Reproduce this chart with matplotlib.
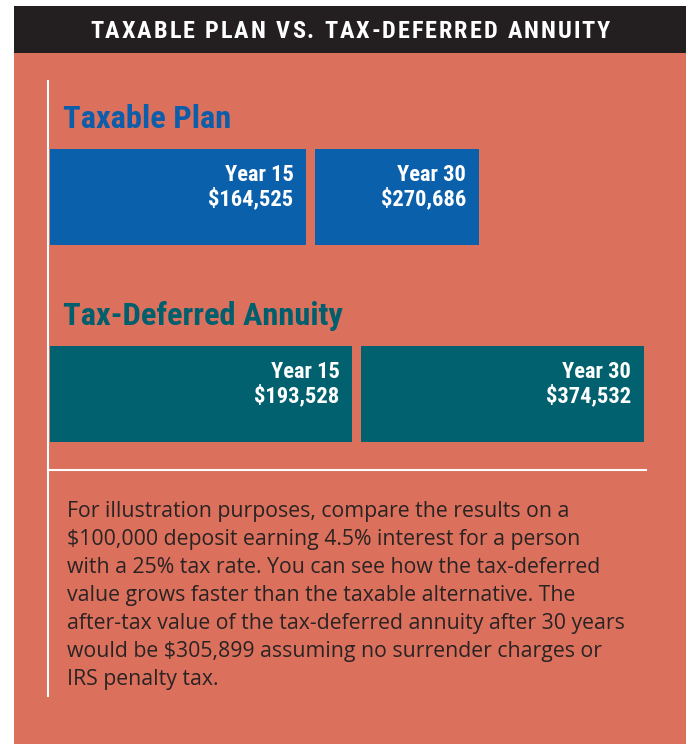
import matplotlib
matplotlib.use("Agg")
import matplotlib.pyplot as plt
from matplotlib.patches import Rectangle
from matplotlib.lines import Line2D

# ---- data ----
plans = ["Taxable Plan", "Tax-Deferred Annuity"]
year15_values = [164525, 193528]
year30_values = [270686, 374532]
year_labels = ["Year 15", "Year 30"]
header = "TAXABLE PLAN VS. TAX-DEFERRED ANNUITY"
body_lines = [
    "For illustration purposes, compare the results on a",
    "$100,000 deposit earning 4.5% interest for a person",
    "with a 25% tax rate. You can see how the tax-deferred",
    "value grows faster than the taxable alternative. The",
    "after-tax value of the tax-deferred annuity after 30 years",
    "would be $305,899 assuming no surrender charges or",
    "IRS penalty tax.",
]

# ---- styles ----
W, H = 688, 744
SALMON = "#DB705D"
HEADER_BG = "#231F20"
BAR_COLORS = ["#0B60AC", "#02616E"]
TITLE_COLORS = ["#0D5EAA", "#005F6C"]
BODY_COLOR = "#2A2323"
COND = ["Roboto Condensed", "DejaVu Sans"]
BODY_FONT = ["Open Sans", "DejaVu Sans"]

fig = plt.figure(figsize=(W / 100, H / 100), dpi=100)
fig.patch.set_facecolor("white")
renderer = fig.canvas.get_renderer()

def fx(x):
    return x / W

def fy(y):
    return 1 - y / H

# background panel and header
fig.patches.append(Rectangle((fx(14), fy(744)), fx(686) - fx(14), fy(53) - fy(744),
                             transform=fig.transFigure, facecolor=SALMON, edgecolor="none", zorder=-2))
fig.patches.append(Rectangle((fx(14), fy(53)), fx(686) - fx(14), fy(6) - fy(53),
                             transform=fig.transFigure, facecolor=HEADER_BG, edgecolor="none", zorder=-1))

# header text with letter tracking fitted to a target width
def tracked_text(cx, base_y, s, target_w, **kw):
    items, widths = [], []
    for ch in s:
        t = fig.text(0, 0, ch if ch != " " else "I", **kw)
        w = t.get_window_extent(renderer=renderer).width
        if ch == " ":
            t.set_text(" ")
            w *= 1.0
        widths.append(w)
        items.append(t)
    track = (target_w - sum(widths)) / (len(s) - 1)
    x = cx - target_w / 2
    for t, w in zip(items, widths):
        t.set_position((fx(x), fy(base_y)))
        x += w + track

tracked_text(350, 38.5, header, 520, fontsize=17.5, fontweight="bold", family=COND,
             color="white", ha="left", va="baseline", zorder=3)

# white rules
fig.lines.append(Line2D([fx(48), fx(48)], [fy(81), fy(696)], transform=fig.transFigure,
                        color="white", linewidth=1.5, zorder=2))
fig.lines.append(Line2D([fx(48), fx(646)], [fy(470), fy(470)], transform=fig.transFigure,
                        color="white", linewidth=1.5, zorder=2))

# bar axes
ax_left, ax_w = 50, 594
ax_top, ax_h = 98.5, 394
ax = fig.add_axes([fx(ax_left), fy(ax_top + ax_h), ax_w / W, ax_h / H])
ax.set_zorder(3)
ax.set_facecolor("none")
xmax = max(year30_values)
ax.set_xlim(0, xmax)
ax.set_ylim(1.5, -0.5)
ax.axis("off")
bar_h = 96 / 197
gap = 9 * xmax / ax_w

for i, (v15, v30) in enumerate(zip(year15_values, year30_values)):
    ax.barh(i, v15 - gap / 2, left=0, height=bar_h, color=BAR_COLORS[i], edgecolor="none")
    ax.barh(i, v30 - v15 - gap / 2, left=v15 + gap / 2, height=bar_h, color=BAR_COLORS[i], edgecolor="none")
    for end, lab, val in [(v15 - gap / 2, year_labels[0], v15), (v30, year_labels[1], v30)]:
        ax.annotate(lab, xy=(end, i - bar_h / 2), xytext=(-13, -32), textcoords="offset pixels",
                    ha="right", va="baseline", color="white", fontsize=16.2,
                    fontweight="bold", family=COND, annotation_clip=False)
        ax.annotate(f"${val:,}", xy=(end, i - bar_h / 2), xytext=(-13, -56), textcoords="offset pixels",
                    ha="right", va="baseline", color="white", fontsize=16.2,
                    fontweight="bold", family=COND, annotation_clip=False)
    ax.annotate(plans[i], xy=(0, i - bar_h / 2), xytext=(13, 21), textcoords="offset pixels",
                ha="left", va="baseline", color=TITLE_COLORS[i], fontsize=23.3,
                fontweight="bold", family=COND, annotation_clip=False)

# body text, size fitted so the longest line spans ~560 px
probe = fig.text(0, 0, body_lines[4], fontsize=14, family=BODY_FONT)
pw = probe.get_window_extent(renderer=renderer).width
probe.remove()
body_size = 14 * 560 / pw
for k, line in enumerate(body_lines):
    fig.text(fx(67), fy(517 + 28 * k), line, ha="left", va="baseline", fontsize=body_size,
             color=BODY_COLOR, family=BODY_FONT)

fig.savefig("out.png", dpi=100, facecolor=fig.get_facecolor())
